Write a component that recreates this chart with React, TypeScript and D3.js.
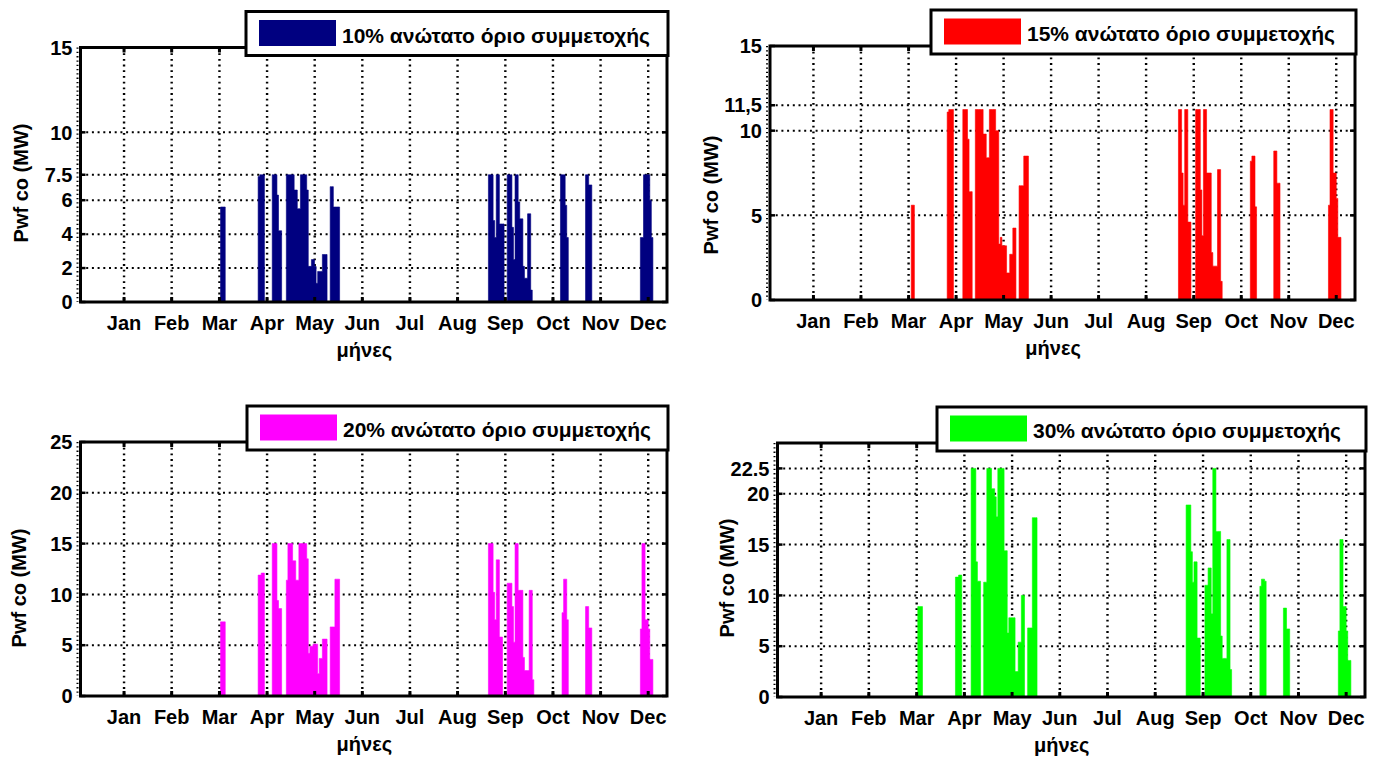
import React from 'react';
import * as d3 from 'd3';

// ---------- data ----------
const monthLabels = ['Jan', 'Feb', 'Mar', 'Apr', 'May', 'Jun', 'Jul', 'Aug', 'Sep', 'Oct', 'Nov', 'Dec'];
// month tick positions (day of year)
const monthTickDays = [30.4, 60.8, 91.3, 121.7, 152.1, 182.5, 212.9, 243.3, 273.8, 304.2, 334.6, 365.0];
const xDomain: [number, number] = [2.6, 377];

// runs of daily values: [start day, values...]
const runs10: [number, number[]][] = [
  [92, [5.6, 5.6, 5.6]],
  [116, [7.4, 7.5, 7.5, 7.5]],
  [125, [7.5, 7.5, 7.5, 6.3, 4.2, 4.2]],
  [134, [7.5, 7.5, 7.5, 7.5, 7.5, 6.6, 6.6, 5.5, 5.5, 7.5, 7.5, 7.5, 7.5, 6.6, 2.1, 2.1, 2.5, 2.5, 2.1, 1.1, 1.8, 1.8, 1.8, 2.8, 2.8, 2.8]],
  [162, [6.8, 6.8, 5.6, 5.6, 5.6, 5.6]],
  [263, [7.5, 7.5, 7.5, 4.8, 3.8, 7.5, 7.5, 4.6, 4.6, 4.6]],
  [275, [7.5, 7.5, 7.5, 4.4, 2.5, 7.5, 7.5, 5.9, 4.9, 4.9, 2.1, 1.4, 1.4, 5.2, 5.2, 0.7]],
  [309, [7.5, 7.5, 7.5, 5.7, 3.8]],
  [325, [7.5, 7.5, 6.9, 6.9]],
  [360, [3.8, 3.8, 7.5, 7.5, 7.5, 7.5, 6.0, 3.8]],
];
const runs15: [number, number[]][] = [
  [93, [5.6, 5.6]],
  [116, [11.1, 11.25, 11.25, 11.25]],
  [126, [11.25, 11.25, 11.25, 9.5, 6.4, 6.4]],
  [134, [11.25, 11.25, 11.25, 11.25, 11.25, 9.8, 9.8, 8.4, 8.4, 11.25, 11.25, 11.25, 11.25, 10.0, 10.0, 3.3, 3.7, 3.2, 3.2, 3.2, 1.6, 1.6, 2.7, 2.7, 4.25, 4.25]],
  [162, [6.75, 6.75, 6.75, 8.5, 8.5, 8.5]],
  [264, [11.25, 11.25, 7.5, 5.6, 11.25, 11.25, 4.6, 4.6]],
  [275, [11.25, 11.25, 11.25, 6.5, 3.8, 11.25, 11.25, 7.5, 7.5, 7.5, 2.8, 2.0, 2.0, 2.0, 7.7, 7.7, 1.1]],
  [310, [8.2, 8.5, 8.5, 5.5]],
  [325, [8.8, 8.8, 6.9, 6.9]],
  [360, [5.6, 11.25, 11.25, 7.5, 7.5, 6.0, 3.7, 3.7]],
];
const runs20: [number, number[]][] = [
  [92, [7.3, 7.3, 7.3]],
  [116, [11.9, 11.9, 12.1, 12.1]],
  [125, [15, 15, 15, 9.4, 8.6, 8.6]],
  [134, [11.4, 15, 15, 15, 13.3, 13.3, 11.4, 11.4, 15, 15, 15, 15, 15, 13.5, 4.2, 4.9, 4.9, 5.1, 5.1, 5.1, 2.2, 3.7, 3.7, 5.6, 5.6, 5.6]],
  [162, [6.8, 6.8, 6.8, 11.5, 11.5, 11.5]],
  [263, [15, 15, 15, 10.2, 7.5, 13.4, 13.4, 5.8, 5.8]],
  [275, [11.1, 11.1, 11.1, 8.8, 5.3, 15, 15, 10.4, 10.4, 10.4, 3.8, 2.5, 2.5, 2.5, 10.4, 10.4, 1.6]],
  [310, [8.2, 11.5, 11.5, 7.5]],
  [325, [8.8, 8.8, 6.7, 6.7]],
  [360, [6.6, 15, 15, 7.5, 7.5, 6.6, 3.6, 3.6]],
];
const runs30: [number, number[]][] = [
  [92, [8.9, 8.9, 8.9]],
  [116, [11.8, 11.8, 12.0, 12.0]],
  [126, [22.5, 22.5, 22.5, 13.3, 11.4, 11.4]],
  [134, [11.3, 11.3, 22.5, 22.5, 22.5, 20.5, 20.5, 19.7, 17.75, 22.5, 22.5, 22.5, 22.5, 14.4, 14.4, 6.3, 7.8, 7.8, 7.8, 7.8, 2.5, 2.5, 5.4, 5.4, 10.0, 10.0]],
  [162, [6.8, 6.8, 6.8, 17.65, 17.65, 17.65]],
  [263, [18.9, 18.9, 18.9, 14.3, 11.3, 13.3, 13.3, 5.8, 5.8]],
  [275, [11.0, 11.0, 12.7, 12.7, 8.2, 22.5, 22.5, 16.3, 16.3, 16.3, 6.0, 3.8, 3.8, 3.8, 15.5, 15.5, 2.7]],
  [310, [10.9, 11.6, 11.6, 11.4]],
  [325, [8.75, 8.75, 6.7, 6.7]],
  [360, [6.5, 15.5, 15.5, 8.9, 8.9, 6.5, 3.6, 3.6]],
];

const yTicks10 = [0, 2, 4, 6, 7.5, 10, 15];
const yLabels10 = ['0', '2', '4', '6', '7.5', '10', '15'];
const yTicks15 = [0, 5, 10, 11.5, 15];
const yLabels15 = ['0', '5', '10', '11,5', '15'];
const yTicks20 = [0, 5, 10, 15, 20, 25];
const yLabels20 = ['0', '5', '10', '15', '20', '25'];
const yTicks30 = [0, 5, 10, 15, 20, 22.5];
const yLabels30 = ['0', '5', '10', '15', '20', '22.5'];

const legendTexts = [
  '10% ανώτατο όριο συμμετοχής',
  '15% ανώτατο όριο συμμετοχής',
  '20% ανώτατο όριο συμμετοχής',
  '30% ανώτατο όριο συμμετοχής',
];
const yMaxes = [15, 15, 25, 25];
const yTitle = 'Pwf co (MW)';
const xTitle = 'μήνες';

// ---------- presentation ----------
const colors = ['#000080', '#ff0000', '#ff00ff', '#00ff00'];
const layouts = [
  { left: 80.5, top: 47.5, right: 667, bottom: 302, ylx: 21, yly: 183, legLeft: 246 },
  { left: 770, top: 46, right: 1355, bottom: 300, ylx: 711, yly: 195, legLeft: 931 },
  { left: 80.5, top: 442, right: 667, bottom: 696, ylx: 19, yly: 588, legLeft: 247 },
  { left: 777.5, top: 443, right: 1365, bottom: 697, ylx: 727, yly: 578, legLeft: 937 },
];
const FONT = '"Liberation Sans", Arial, Helvetica, sans-serif';

const panelData = [
  { runs: runs10, ticks: yTicks10, labels: yLabels10 },
  { runs: runs15, ticks: yTicks15, labels: yLabels15 },
  { runs: runs20, ticks: yTicks20, labels: yLabels20 },
  { runs: runs30, ticks: yTicks30, labels: yLabels30 },
];

function Panel({ idx }: { idx: number }) {
  const g = layouts[idx];
  const p = panelData[idx];
  const color = colors[idx];
  const x = d3.scaleLinear().domain(xDomain).range([g.left, g.right]);
  const y = d3.scaleLinear().domain([0, yMaxes[idx]]).range([g.bottom, g.top]);
  const area = d3.area<{ d: number; v: number }>()
    .x(b => x(b.d))
    .y0(y(0))
    .y1(b => y(b.v))
    .curve(d3.curveStepAfter);
  const runPaths = p.runs.map(([s, vals]) => {
    const pts = vals.map((v, i) => ({ d: s + i, v }));
    pts.push({ d: s + vals.length, v: vals[vals.length - 1] });
    return area(pts) || '';
  });
  const legTop = g.top - 36;
  const legW = g.right + 1 - g.legLeft;
  const xMid = x(182.5) + 2;
  return (
    <g>
      {/* grid */}
      {monthTickDays.map((d, i) => (
        <line key={'vg' + i} x1={x(d)} x2={x(d)} y1={g.top} y2={g.bottom}
          stroke="#000" strokeWidth={2.4} strokeDasharray="1.8 3.9" />
      ))}
      {p.ticks.filter(t => t > 0 && t < yMaxes[idx]).map((t, i) => (
        <line key={'hg' + i} x1={g.left} x2={g.right} y1={y(t)} y2={y(t)}
          stroke="#000" strokeWidth={2} strokeDasharray="2 3.7" />
      ))}
      {/* bars */}
      {runPaths.map((d, i) => (
        <path key={'r' + i} d={d} fill={color} stroke={color} strokeWidth={0.6} />
      ))}
      {/* minor ticks on left */}
      <line x1={g.left - 3} x2={g.left - 3} y1={g.top} y2={g.bottom}
        stroke="#000" strokeWidth={2} strokeDasharray="1.3 3" />
      {/* frame */}
      <rect x={g.left} y={g.top} width={g.right - g.left} height={g.bottom - g.top}
        fill="none" stroke="#000" strokeWidth={3} />
      {/* major ticks */}
      {monthTickDays.map((d, i) => (
        <g key={'xt' + i}>
          <line x1={x(d)} x2={x(d)} y1={g.bottom} y2={g.bottom - 5} stroke="#000" strokeWidth={3} />
          <line x1={x(d)} x2={x(d)} y1={g.top} y2={g.top + 5} stroke="#000" strokeWidth={3} />
          <text x={x(d)} y={g.bottom + 28} textAnchor="middle" fontFamily={FONT}
            fontWeight="bold" fontSize={20} fill="#000">{monthLabels[i]}</text>
        </g>
      ))}
      {p.ticks.map((t, i) => (
        <g key={'yt' + i}>
          <line x1={g.left} x2={g.left + 5} y1={y(t)} y2={y(t)} stroke="#000" strokeWidth={2.5} />
          <line x1={g.right} x2={g.right - 5} y1={y(t)} y2={y(t)} stroke="#000" strokeWidth={2.5} />
          <text x={g.left - 8} y={y(t)} dy="0.36em" textAnchor="end" fontFamily={FONT}
            fontWeight="bold" fontSize={20} fill="#000">{p.labels[i]}</text>
        </g>
      ))}
      {/* axis titles */}
      <text x={xMid} y={g.bottom + 55} textAnchor="middle" fontFamily={FONT}
        fontWeight="bold" fontSize={20} fill="#000">{xTitle}</text>
      <text transform={`translate(${g.ylx},${g.yly}) rotate(-90)`} textAnchor="middle"
        dominantBaseline="central" fontFamily={FONT} fontWeight="bold" fontSize={20} fill="#000">{yTitle}</text>
      {/* legend */}
      <rect x={g.legLeft} y={legTop} width={legW} height={44} fill="#fff" stroke="#000" strokeWidth={3} />
      <rect x={g.legLeft + 13} y={legTop + 8.5} width={77} height={26} fill={color} />
      <text x={g.legLeft + 96} y={legTop + 31} fontFamily={FONT} fontWeight="bold" fontSize={21}
        fill="#000">{legendTexts[idx]}</text>
    </g>
  );
}

export default function App() {
  return (
    <svg width={1373} height={758} style={{ position: 'absolute', left: 0, top: 0, background: '#fff' }}>
      <rect x={0} y={0} width={1373} height={758} fill="#fff" />
      {[0, 1, 2, 3].map(i => <Panel key={i} idx={i} />)}
    </svg>
  );
}
